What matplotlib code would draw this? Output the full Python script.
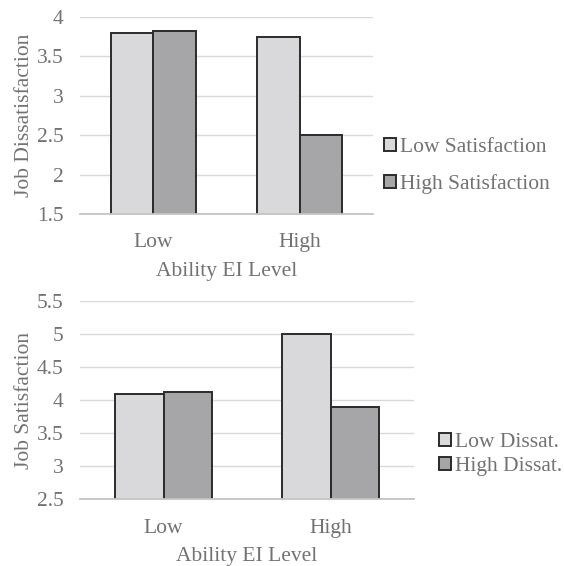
import numpy as np
import matplotlib.pyplot as plt

plt.rcParams['font.family'] = ['Liberation Serif', 'DejaVu Serif']

levels = ["Low", "High"]

# top panel: job dissatisfaction by satisfaction group
dissat_low_sat = [3.80, 3.75]
dissat_high_sat = [3.82, 2.50]

# bottom panel: job satisfaction by dissatisfaction group
sat_low_dissat = [4.10, 5.00]
sat_high_dissat = [4.13, 3.90]

light = "#d9d9db"
dark = "#a6a6a9"
txt = "#727272"
grid = "#d9d9d9"
edge = "#2b2b2b"
fs = 15.5

fig = plt.figure(figsize=(5.64, 5.66), dpi=100)
ax1 = fig.add_axes([0.142, 0.622, 0.519, 0.348])
ax2 = fig.add_axes([0.142, 0.118, 0.592, 0.350])


def panel(ax, a, b, la, lb, ylabel, ylim, yticks, ticklabels, leg_anchor, leg_gap):
    x = np.arange(len(levels))
    w = 0.29
    ax.bar(x - w/2, a, w, bottom=0, color=light, edgecolor=edge, linewidth=1.4,
           label=la, zorder=3)
    ax.bar(x + w/2, b, w, bottom=0, color=dark, edgecolor=edge, linewidth=1.4,
           label=lb, zorder=3)
    ax.set_xlim(-0.5, 1.5)
    ax.set_ylim(*ylim)
    ax.set_yticks(yticks)
    ax.set_yticklabels(ticklabels)
    ax.set_xticks(x)
    ax.set_xticklabels(levels)
    ax.tick_params(length=0, labelsize=fs, colors=txt, pad=12)
    ax.tick_params(axis='x', pad=14)
    for s in ax.spines.values():
        s.set_visible(False)
    # light category axis line drawn over the bar bottoms
    ax.spines['bottom'].set_visible(True)
    ax.spines['bottom'].set_color("#c4c4c4")
    ax.spines['bottom'].set_linewidth(1.3)
    ax.spines['bottom'].set_zorder(4)
    ax.grid(axis='y', color=grid, linewidth=1, zorder=0)
    ax.set_axisbelow(True)
    ax.set_ylabel(ylabel, fontsize=fs, color=txt, labelpad=2)
    ax.set_xlabel("Ability EI Level", fontsize=fs, color=txt, labelpad=7)
    leg = ax.legend(loc='center left', bbox_to_anchor=leg_anchor, frameon=False,
                    fontsize=fs, handlelength=0.55, handleheight=0.55,
                    handletextpad=0.2, labelspacing=leg_gap, borderaxespad=0)
    for t in leg.get_texts():
        t.set_color(txt)


panel(ax1, dissat_low_sat, dissat_high_sat, "Low Satisfaction", "High Satisfaction",
      "Job Dissatisfaction", (1.5, 4.0), [1.5, 2, 2.5, 3, 3.5, 4],
      ["1.5", "2", "2.5", "3", "3.5", "4"], (1.008, 0.245), 0.8)
panel(ax2, sat_low_dissat, sat_high_dissat, "Low Dissat.", "High Dissat.",
      "Job Satisfaction", (2.5, 5.5), [2.5, 3, 3.5, 4, 4.5, 5, 5.5],
      ["2.5", "3", "3.5", "4", "4.5", "5", "5.5"], (1.05, 0.225), 0.25)

fig.savefig("out.png", dpi=100)
